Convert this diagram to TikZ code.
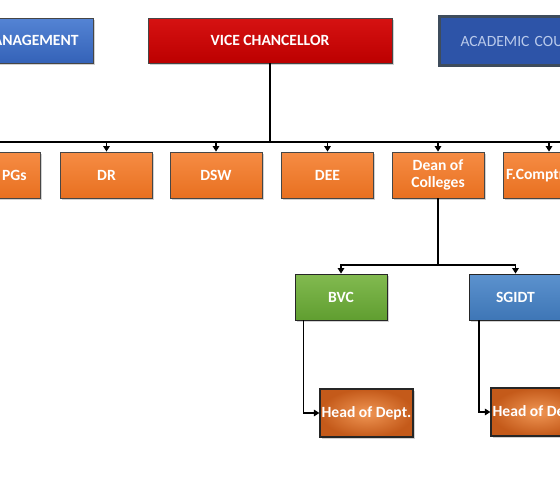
\documentclass[tikz,border=0pt]{standalone}
\usepackage{fontspec}
\setmainfont{Carlito}
\usetikzlibrary{arrows.meta,shadows}
\definecolor{orT}{RGB}{246,140,68}
\definecolor{orB}{RGB}{232,112,32}
\definecolor{rdT}{RGB}{214,18,18}
\definecolor{rdB}{RGB}{188,0,0}
\definecolor{blT}{RGB}{84,132,212}
\definecolor{blB}{RGB}{52,98,184}
\definecolor{acF}{RGB}{45,84,168}
\definecolor{acD}{RGB}{62,76,92}
\definecolor{acT}{RGB}{185,202,235}
\definecolor{grT}{RGB}{130,186,80}
\definecolor{grB}{RGB}{96,158,48}
\definecolor{sgT}{RGB}{92,146,206}
\definecolor{sgB}{RGB}{62,118,182}
\definecolor{hdO}{RGB}{196,90,26}
\definecolor{hdI}{RGB}{240,150,84}
\definecolor{bord}{RGB}{70,70,70}
\tikzset{
  x=1pt, y=-1pt,
  box/.style={draw=bord, line width=0.8pt, text=white, font=\fontsize{15.6}{17}\selectfont\bfseries,
    align=center, inner sep=1pt,
    drop shadow={shadow xshift=1.5pt, shadow yshift=-1.5pt, fill=black!30, opacity=0.6}},
  orbox/.style={box, top color=orT, bottom color=orB, minimum width=92pt, minimum height=46pt},
  redbox/.style={box, top color=rdT, bottom color=rdB},
  bluebox/.style={box, top color=blT, bottom color=blB},
  acbox/.style={box, draw=acD, line width=3pt, fill=acF, text=acT, font=\fontsize{15.6}{17}\selectfont},
  grbox/.style={box, draw=black!85, top color=grT, bottom color=grB, minimum width=92pt, minimum height=46pt},
  sgbox/.style={box, draw=black!85, top color=sgT, bottom color=sgB, minimum width=92pt, minimum height=46pt},
  hdbox/.style={box, draw=black!85, line width=1.2pt, inner color=hdI, outer color=hdO, minimum width=93pt, minimum height=48pt, inner xsep=0pt},
  conn/.style={line width=1.5pt, black},
  arr/.style={conn, -{Triangle[length=5.5pt,width=6.5pt]}}
}
\begin{document}
\begin{tikzpicture}
\useasboundingbox (0,0) rectangle (560,488);
\clip (0,0) rectangle (560,488);
% top row
\node[bluebox, anchor=east, minimum height=45pt, text width=150pt, align=right, inner xsep=15pt] (mgmt) at (94,40.5) {MANAGEMENT};
\node[redbox, minimum width=244pt, minimum height=45pt] (vc) at (270,40.5) {VICE CHANCELLOR};
\node[acbox, anchor=west, minimum height=49pt, text width=200pt, align=left, inner xsep=21.5pt] (acad) at (437.5,41) {ACADEMIC COUNCIL};
% second row
\node[orbox, anchor=east, text width=64pt, align=right, inner xsep=14pt] (pgs) at (41,175) {PGs};
\node[orbox] (dr) at (106.5,175) {DR};
\node[orbox] (dsw) at (216,175) {DSW};
\node[orbox] (dee) at (327.5,175) {DEE};
\node[orbox] (dean) at (438,175) {Dean of\\Colleges};
\node[orbox, text width=86pt, align=left, inner xsep=3pt] (fc) at (549,175) {F.Comptroller};
% third row
\node[grbox] (bvc) at (341,297) {BVC};
\node[sgbox] (sgidt) at (515.5,297) {SGIDT};
% fourth row
\node[hdbox] (hod1) at (366.5,413) {Head of Dept.};
\node[hdbox] (hod2) at (537.5,412) {Head of Dept.};
% connectors
\coordinate (vcb) at (270,142);
\coordinate (busL) at (-20,142);
\coordinate (busR) at (580,142);
\draw[conn] (vc.south) -- (vcb);
\draw[conn] (busL) -- (busR);
\foreach \n in {pgs,dr,dsw,dee,dean,fc}{
  \draw[arr] (\n.north |- vcb) -- (\n.north);
}
\coordinate (db) at (438,265);
\draw[conn] (dean.south) -- (db);
\draw[arr] (db) -| (bvc.north);
\draw[arr] (db) -| (sgidt.north);
\draw[arr] ([xshift=9pt]bvc.south west) |- (hod1.west);
\draw[arr] ([xshift=10pt]sgidt.south west) |- (hod2.west);
\end{tikzpicture}
\end{document}
